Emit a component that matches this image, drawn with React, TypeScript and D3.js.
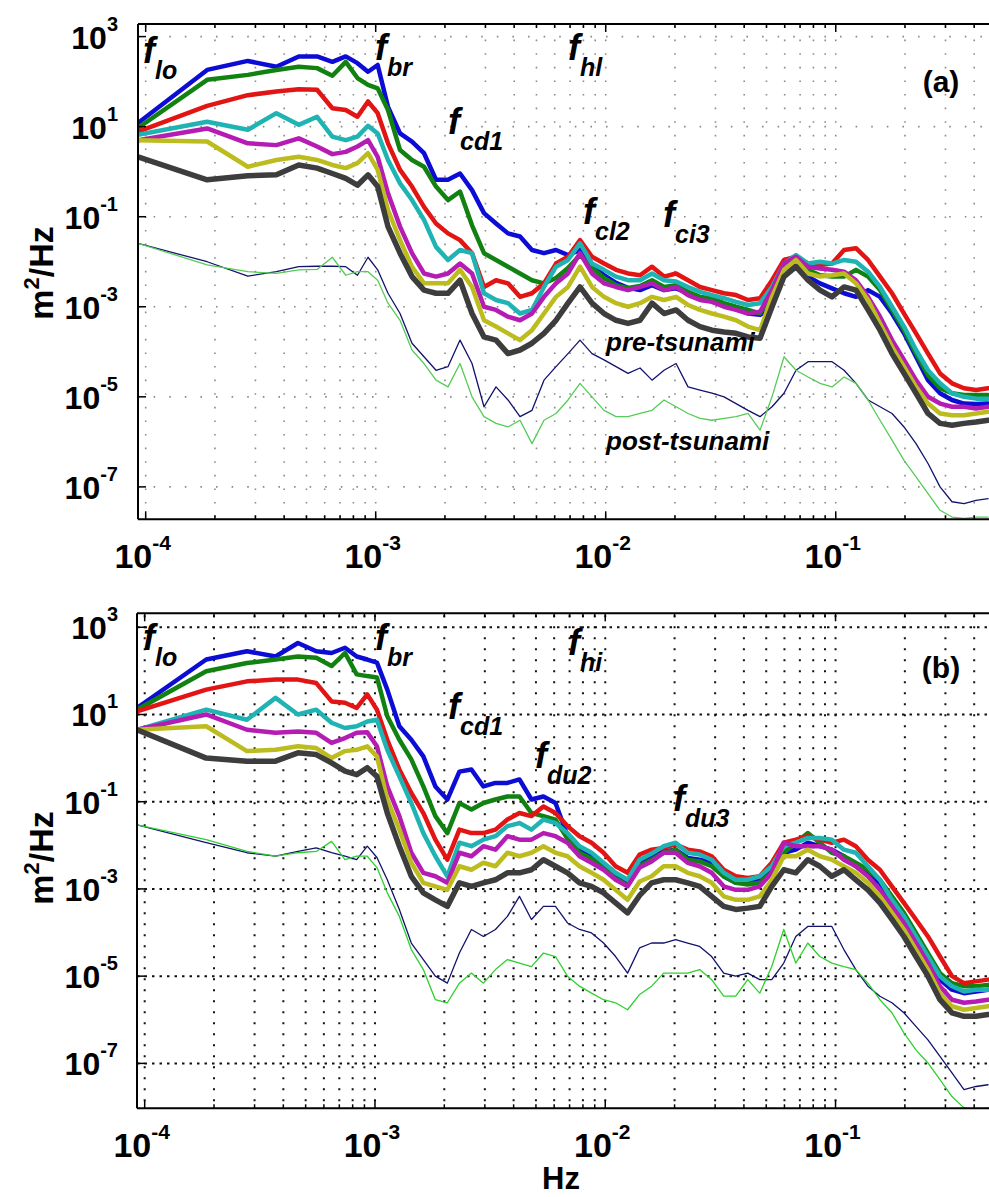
import React from 'react';
import * as d3 from 'd3';

// frequencies (Hz): the first eleven are the raw harmonics of the 3 h record, then ~log spaced
const freqs = [
  9.26e-5, 1.85e-4, 2.78e-4, 3.70e-4, 4.63e-4, 5.56e-4, 6.48e-4, 7.41e-4, 8.33e-4, 9.26e-4, 1.02e-3,
  1.131e-3, 1.276e-3, 1.438e-3, 1.622e-3, 1.829e-3, 2.062e-3, 2.326e-3, 2.623e-3, 2.957e-3, 3.335e-3,
  3.760e-3, 4.240e-3, 4.781e-3, 5.391e-3, 6.080e-3, 6.856e-3, 7.731e-3, 8.718e-3, 9.831e-3, 1.109e-2,
  1.250e-2, 1.410e-2, 1.590e-2, 1.793e-2, 2.022e-2, 2.280e-2, 2.570e-2, 2.898e-2, 3.268e-2, 3.686e-2,
  4.156e-2, 4.687e-2, 5.285e-2, 5.959e-2, 6.720e-2, 7.578e-2, 8.545e-2, 9.636e-2, 0.1087, 0.1225,
  0.1382, 0.1558, 0.1757, 0.1981, 0.2234, 0.2519, 0.2841, 0.3203, 0.3612, 0.4074, 0.4594,
];

// panel (a): log10 of spectral density (m^2/Hz)
const aBlue = [1.08, 2.26, 2.46, 2.33, 2.56, 2.56, 2.44, 2.56, 2.41, 2.22, 2.37,
  1.44, 0.85, 0.67, 0.41, -0.18, -0.18, -0.04, -0.41, -0.92, -1.15, -1.37, -1.44, -1.74, -1.81, -1.74, -1.85, -1.74, -2.07, -2.30, -2.47,
  -2.58, -2.63, -2.52, -2.63, -2.59, -2.70, -2.81, -2.85, -2.96, -3.04, -3.15, -3.18, -3.00, -2.18, -2.04, -2.33, -2.48, -2.59, -2.70, -2.78,
  -2.63, -2.78, -3.15, -3.59, -4.11, -4.63, -4.92, -5.07, -5.15, -5.16, -5.15];
const aGreen = [0.97, 2.04, 2.15, 2.26, 2.33, 2.30, 2.13, 2.44, 2.08, 1.93, 1.85,
  1.37, 0.48, 0.26, 0.11, -0.33, -0.63, -0.44, -1.19, -1.81, -1.96, -2.11, -2.26, -2.41, -2.48, -2.36, -2.14, -1.85, -2.14, -2.36, -2.52,
  -2.58, -2.54, -2.41, -2.56, -2.52, -2.67, -2.78, -2.81, -2.92, -3.00, -3.07, -3.15, -2.70, -2.11, -1.96, -2.18, -2.30, -2.33, -2.33, -2.18,
  -2.33, -2.63, -3.07, -3.52, -4.04, -4.52, -4.81, -4.92, -4.96, -4.96, -4.96];
const aRed = [0.89, 1.46, 1.70, 1.78, 1.83, 1.82, 1.41, 1.37, 1.22, 1.56, 1.30,
  0.63, 0.04, -0.33, -0.78, -1.15, -1.37, -1.52, -1.81, -2.56, -2.41, -2.48, -2.78, -2.70, -2.48, -2.04, -1.89, -1.52, -1.89, -2.04, -2.18,
  -2.26, -2.30, -2.11, -2.33, -2.26, -2.41, -2.56, -2.63, -2.70, -2.74, -2.85, -2.81, -2.41, -1.96, -1.89, -2.04, -2.07, -2.04, -1.74, -1.70,
  -1.96, -2.33, -2.70, -3.15, -3.59, -4.04, -4.48, -4.70, -4.81, -4.85, -4.81];
const aCyan = [0.82, 1.11, 0.93, 1.30, 1.04, 1.22, 0.78, 0.70, 0.78, 1.02, 0.85,
  0.26, -0.26, -0.63, -1.07, -1.67, -1.96, -1.74, -1.81, -2.70, -2.85, -2.92, -3.15, -3.07, -2.56, -2.11, -1.96, -1.59, -2.04, -2.18, -2.33,
  -2.41, -2.41, -2.26, -2.41, -2.44, -2.56, -2.67, -2.74, -2.81, -2.89, -2.96, -2.92, -2.56, -2.04, -1.85, -2.04, -2.00, -2.04, -1.96, -2.00,
  -2.22, -2.56, -3.00, -3.44, -3.96, -4.41, -4.70, -4.92, -5.00, -5.04, -5.04];
const aMagenta = [0.70, 0.96, 0.63, 0.59, 0.74, 0.56, 0.39, 0.44, 0.56, 0.70, 0.33,
  -0.48, -1.22, -1.81, -2.26, -2.33, -2.26, -2.04, -2.26, -3.00, -3.07, -3.22, -3.30, -3.15, -2.78, -2.48, -2.26, -1.81, -2.26, -2.48, -2.56,
  -2.63, -2.56, -2.48, -2.63, -2.56, -2.74, -2.85, -2.89, -3.00, -3.07, -3.15, -3.11, -2.63, -2.04, -1.89, -2.11, -2.15, -2.18, -2.22, -2.41,
  -2.78, -3.22, -3.74, -4.18, -4.63, -5.00, -5.15, -5.22, -5.22, -5.26, -5.22];
const aYellow = [0.70, 0.67, 0.11, 0.26, 0.33, 0.26, 0.15, 0.08, 0.19, 0.41, 0.04,
  -0.85, -1.52, -2.11, -2.48, -2.48, -2.48, -2.18, -2.56, -3.30, -3.44, -3.59, -3.74, -3.52, -3.15, -2.78, -2.56, -2.11, -2.56, -2.78, -2.92,
  -3.00, -2.92, -2.78, -2.85, -2.78, -2.96, -3.07, -3.15, -3.22, -3.30, -3.44, -3.52, -2.78, -2.18, -1.96, -2.26, -2.33, -2.30, -2.26, -2.48,
  -2.85, -3.37, -3.89, -4.33, -4.78, -5.15, -5.37, -5.41, -5.41, -5.37, -5.33];
const aGray = [0.33, -0.18, -0.09, -0.07, 0.15, 0.08, -0.04, -0.15, -0.30, -0.07, -0.33,
  -1.22, -1.81, -2.33, -2.63, -2.70, -2.70, -2.41, -3.15, -3.67, -3.74, -4.04, -3.96, -3.81, -3.59, -3.30, -2.92, -2.56, -2.92, -3.15, -3.30,
  -3.37, -3.30, -2.92, -3.15, -3.07, -3.30, -3.44, -3.52, -3.56, -3.59, -3.67, -3.70, -3.00, -2.33, -2.11, -2.41, -2.63, -2.78, -2.56, -2.63,
  -3.07, -3.52, -4.04, -4.48, -4.92, -5.37, -5.59, -5.63, -5.59, -5.56, -5.52];
const aPre = [-1.59, -2.00, -2.32, -2.22, -2.11, -2.10, -2.10, -2.11, -2.30, -1.90, -2.18,
  -2.70, -3.15, -3.81, -4.11, -4.41, -4.33, -3.74, -4.26, -5.22, -4.78, -5.07, -5.44, -5.30, -4.63, -4.33, -4.04, -3.74, -4.04, -4.18, -4.33,
  -4.48, -4.36, -4.63, -4.41, -4.26, -4.78, -4.85, -4.92, -5.00, -5.15, -5.30, -5.44, -5.22, -4.92, -4.41, -4.22, -4.22, -4.22, -4.41, -4.70,
  -5.07, -5.22, -5.37, -5.67, -6.04, -6.48, -7.00, -7.33, -7.37, -7.30, -7.26];
const aPost = [-1.59, -2.07, -2.22, -2.26, -2.18, -2.17, -1.90, -2.30, -2.22, -2.22, -2.41,
  -2.92, -3.30, -3.96, -4.26, -4.63, -4.78, -4.26, -5.00, -5.44, -5.59, -5.67, -5.52, -6.04, -5.52, -5.37, -5.07, -4.70, -5.00, -5.30, -5.44,
  -5.44, -5.37, -5.30, -5.07, -5.22, -5.37, -5.48, -5.52, -5.48, -5.44, -5.37, -5.74, -5.00, -4.11, -4.41, -4.56, -4.70, -4.78, -4.56, -4.70,
  -5.07, -5.52, -5.96, -6.41, -6.78, -7.15, -7.52, -7.67, -7.70, -7.67, -7.67];

// panel (b): log10 of spectral density (m^2/Hz)
const bBlue = [1.15, 2.26, 2.45, 2.33, 2.64, 2.45, 2.41, 2.53, 2.33, 2.26, 2.19,
  1.57, 0.73, 0.42, 0.04, -0.65, -0.95, -0.31, -0.26, -0.65, -0.57, -0.57, -0.49, -0.95, -0.88, -1.03, -1.78, -2.10, -2.24, -2.47, -2.69,
  -2.86, -2.40, -2.26, -2.14, -2.10, -2.29, -2.33, -2.40, -2.71, -2.86, -2.86, -2.79, -2.56, -2.17, -2.10, -1.94, -2.02, -2.10, -2.25, -2.48,
  -2.67, -2.86, -3.32, -3.70, -4.16, -4.62, -5.08, -5.31, -5.39, -5.35, -5.31];
const bGreen = [1.11, 1.99, 2.18, 2.26, 2.33, 2.30, 2.11, 2.41, 1.92, 1.88, 1.85,
  0.96, 0.42, -0.03, -0.65, -1.33, -1.72, -1.03, -1.18, -1.03, -0.95, -0.88, -0.88, -1.26, -1.33, -1.41, -1.85, -2.17, -2.31, -2.53, -2.76,
  -2.92, -2.47, -2.33, -2.17, -2.10, -2.33, -2.37, -2.48, -2.71, -2.86, -2.90, -2.86, -2.63, -2.17, -1.94, -1.72, -1.94, -2.17, -2.25, -2.40,
  -2.56, -2.79, -3.17, -3.55, -4.01, -4.47, -4.93, -5.16, -5.23, -5.23, -5.20];
const bRed = [1.07, 1.57, 1.76, 1.80, 1.80, 1.72, 1.30, 1.27, 1.15, 1.46, 1.11,
  0.42, -0.26, -0.80, -1.26, -1.87, -2.33, -1.64, -1.72, -1.72, -1.64, -1.41, -1.26, -1.33, -1.11, -1.26, -1.56, -1.79, -1.94, -2.17, -2.48,
  -2.63, -2.21, -2.10, -2.06, -1.98, -2.10, -2.14, -2.25, -2.56, -2.71, -2.75, -2.71, -2.40, -1.94, -1.87, -1.79, -1.87, -1.94, -1.87, -2.02,
  -2.33, -2.56, -2.94, -3.32, -3.70, -4.09, -4.55, -5.00, -5.16, -5.12, -5.08];
const bCyan = [0.65, 1.11, 0.88, 1.38, 1.00, 1.11, 0.81, 0.69, 0.73, 0.84, 0.88,
  0.19, -0.42, -1.03, -1.72, -2.25, -2.71, -1.94, -2.02, -1.87, -1.79, -1.56, -1.49, -1.64, -1.41, -1.49, -1.72, -2.02, -2.17, -2.40, -2.63,
  -2.79, -2.33, -2.19, -2.02, -1.94, -2.17, -2.21, -2.33, -2.63, -2.79, -2.79, -2.71, -2.48, -2.02, -1.94, -1.83, -1.83, -1.87, -2.10, -2.17,
  -2.48, -2.79, -3.25, -3.63, -4.09, -4.55, -5.00, -5.23, -5.35, -5.31, -5.31];
const bMagenta = [0.65, 1.00, 0.65, 0.58, 0.61, 0.58, 0.35, 0.46, 0.58, 0.59, 0.27,
  -0.65, -1.33, -2.17, -2.63, -2.71, -2.86, -2.17, -2.25, -2.02, -2.10, -1.79, -1.87, -1.87, -1.72, -1.79, -1.94, -2.25, -2.40, -2.56, -2.79,
  -2.94, -2.51, -2.37, -2.17, -2.17, -2.40, -2.48, -2.63, -2.94, -3.02, -3.02, -2.94, -2.63, -1.94, -2.02, -2.02, -2.02, -2.10, -2.33, -2.48,
  -2.71, -3.02, -3.40, -3.78, -4.24, -4.70, -5.23, -5.54, -5.61, -5.58, -5.54];
const bYellow = [0.65, 0.73, 0.16, 0.19, 0.27, 0.23, 0.00, 0.16, 0.19, 0.27, 0.04,
  -0.95, -1.64, -2.40, -2.86, -2.94, -3.02, -2.48, -2.56, -2.40, -2.48, -2.17, -2.25, -2.17, -2.02, -2.17, -2.25, -2.48, -2.63, -2.79, -3.02,
  -3.25, -2.83, -2.71, -2.48, -2.48, -2.63, -2.71, -2.86, -3.17, -3.25, -3.25, -3.17, -2.79, -2.25, -2.25, -2.10, -2.25, -2.33, -2.48, -2.63,
  -2.86, -3.17, -3.55, -3.93, -4.39, -4.85, -5.39, -5.69, -5.77, -5.73, -5.69];
const bGray = [0.65, 0.00, -0.07, -0.07, 0.12, 0.08, -0.11, -0.30, -0.38, -0.22, -0.42,
  -1.26, -2.02, -2.71, -3.09, -3.25, -3.40, -2.86, -2.94, -2.86, -2.79, -2.63, -2.63, -2.56, -2.33, -2.48, -2.63, -2.86, -2.94, -3.09, -3.32,
  -3.55, -3.15, -2.86, -2.79, -2.79, -2.86, -2.94, -3.17, -3.40, -3.47, -3.44, -3.40, -2.94, -2.56, -2.63, -2.33, -2.48, -2.71, -2.56, -2.79,
  -3.02, -3.32, -3.70, -4.09, -4.55, -5.00, -5.54, -5.84, -5.92, -5.92, -5.88];
const bPre = [-1.53, -1.94, -2.17, -2.25, -2.14, -2.06, -2.17, -2.25, -2.33, -2.02, -2.28,
  -2.79, -3.47, -4.24, -4.62, -5.00, -5.16, -4.47, -3.93, -4.09, -3.93, -3.63, -3.17, -3.70, -3.40, -3.40, -3.78, -3.93, -4.01, -4.24, -4.55,
  -4.93, -4.35, -4.24, -4.24, -4.16, -4.24, -4.32, -4.55, -4.93, -5.00, -4.93, -5.08, -5.08, -4.70, -4.09, -3.86, -3.86, -3.86, -4.39, -4.85,
  -5.23, -5.46, -5.61, -5.84, -6.15, -6.46, -6.84, -7.22, -7.60, -7.53, -7.49];
const bPost = [-1.53, -1.87, -2.14, -2.25, -2.17, -2.14, -1.91, -2.33, -2.25, -2.25, -2.51,
  -3.09, -3.63, -4.39, -4.85, -5.54, -5.61, -5.16, -4.93, -5.16, -4.85, -4.62, -4.70, -4.78, -4.47, -4.55, -5.00, -5.23, -5.39, -5.54, -5.61,
  -5.77, -5.42, -5.23, -4.93, -4.93, -4.93, -4.85, -5.08, -5.46, -5.46, -5.08, -5.39, -4.78, -3.93, -4.70, -4.24, -4.55, -4.70, -4.78, -4.85,
  -5.16, -5.54, -5.84, -6.30, -6.69, -6.99, -7.37, -7.76, -8.02, -8.06, -8.02];

const yTickExps = [3, 1, -1, -3, -5, -7];
const xTickExps = [-4, -3, -2, -1];

const FONT = '"Liberation Sans", Arial, sans-serif';
const X_END = 0.5178; // right edge of the axes, just past the cropped picture

const thickStyle = [
  { color: '#0c0cd4', width: 4.5 },
  { color: '#118211', width: 4.5 },
  { color: '#e21414', width: 4.5 },
  { color: '#1fb3b3', width: 4.5 },
  { color: '#b41cb4', width: 4.5 },
  { color: '#bcbc1e', width: 4.5 },
  { color: '#3d3d3d', width: 5.5 },
];

type Ann = { sub: string; x: number; y: number };

const annsA: Ann[] = [
  { sub: 'lo', x: 143, y: 63 },
  { sub: 'br', x: 375, y: 60 },
  { sub: 'hl', x: 568, y: 60 },
  { sub: 'cd1', x: 448, y: 134 },
  { sub: 'cl2', x: 583, y: 224 },
  { sub: 'ci3', x: 663, y: 227 },
];
const annsB: Ann[] = [
  { sub: 'lo', x: 143, y: 650 },
  { sub: 'br', x: 375, y: 650 },
  { sub: 'hi', x: 568, y: 655 },
  { sub: 'cd1', x: 448, y: 719 },
  { sub: 'du2', x: 535, y: 768 },
  { sub: 'du3', x: 673, y: 811 },
];

type PanelProps = {
  id: string;
  top: number;
  bottom: number;
  left: number;
  yDom: [number, number];
  thick: number[][];
  pre: number[];
  post: number[];
  postColor: string;
  anns: Ann[];
  tag: string;
  tagY: number;
  ylabY: number;
  dark: boolean;
  extra?: React.ReactNode;
};

function Panel(p: PanelProps) {
  const x = d3.scaleLog().domain([freqs[0], X_END]).range([p.left, 1000]);
  const y = d3.scaleLog().domain([10 ** p.yDom[0], 10 ** p.yDom[1]]).range([p.bottom, p.top]);
  const line = d3
    .line<number>()
    .x((_, i) => x(freqs[i]))
    .y((v) => y(10 ** v));

  const xGrid: number[] = [];
  for (let e = -4; e <= -1; e++) {
    for (let m = 1; m <= 9; m++) {
      const v = m * 10 ** e;
      if (v > freqs[0] * 1.02 && v < X_END) xGrid.push(v);
    }
  }
  const isMajor = (v: number) => Math.abs(Math.log10(v) - Math.round(Math.log10(v))) < 1e-6;

  const gColor = p.dark ? '#111' : '#8a8a8a';
  const vDash = p.dark ? '2 9' : '1.6 12';
  const hDash = p.dark ? '2.5 5' : '1.6 14';

  return (
    <g>
      <defs>
        <clipPath id={p.id}>
          <rect x={p.left} y={p.top} width={1000 - p.left} height={p.bottom - p.top} />
        </clipPath>
      </defs>

      {/* dotted grid */}
      <g stroke={gColor} strokeWidth={p.dark ? 2 : 1.6} fill="none">
        {xGrid.map((v) => (
          <line key={'v' + v} x1={x(v)} x2={x(v)} y1={p.top + 2} y2={p.bottom} strokeDasharray={vDash} />
        ))}
        {yTickExps.map((e) => (
          <line key={'h' + e} x1={p.left} x2={1000} y1={y(10 ** e)} y2={y(10 ** e)} strokeDasharray={hDash} />
        ))}
      </g>

      {/* spectra */}
      <g clipPath={`url(#${p.id})`} fill="none" strokeLinejoin="round" strokeLinecap="round">
        {p.thick.map((vals, i) => (
          <path key={i} d={line(vals) || ''} stroke={thickStyle[i].color} strokeWidth={thickStyle[i].width} />
        ))}
        <path d={line(p.pre) || ''} stroke="#12126e" strokeWidth={1.3} />
        <path d={line(p.post) || ''} stroke={p.postColor} strokeWidth={1.3} />
      </g>

      {/* axes box (right side falls outside the picture) */}
      <g stroke="#000" strokeWidth={2} fill="none">
        <line x1={p.left} x2={1000} y1={p.top} y2={p.top} />
        <line x1={p.left} x2={1000} y1={p.bottom} y2={p.bottom} />
        <line x1={p.left} x2={p.left} y1={p.top} y2={p.bottom} />
      </g>
      <g stroke="#000" strokeWidth={1.5}>
        {xGrid.map((v) => {
          const len = isMajor(v) ? 8 : 4;
          return (
            <g key={'t' + v}>
              <line x1={x(v)} x2={x(v)} y1={p.bottom} y2={p.bottom - len} />
              <line x1={x(v)} x2={x(v)} y1={p.top} y2={p.top + len} />
            </g>
          );
        })}
        {yTickExps.map((e) => (
          <line key={'yt' + e} x1={p.left} x2={p.left + 8} y1={y(10 ** e)} y2={y(10 ** e)} />
        ))}
      </g>

      {/* tick labels */}
      <g fontFamily={FONT} fontWeight="bold" fill="#000">
        {yTickExps.map((e) => (
          <text key={'yl' + e} x={118} y={y(10 ** e) + 12} textAnchor="end" fontSize={32}>
            10
            <tspan dy={-18} fontSize={20}>
              {String(e)}
            </tspan>
          </text>
        ))}
        {xTickExps.map((e) => (
          <text key={'xl' + e} x={x(10 ** e) - 3} y={p.bottom + 49} textAnchor="middle" fontSize={34}>
            10
            <tspan dy={-18} fontSize={21}>
              {String(e)}
            </tspan>
          </text>
        ))}
        <text transform={`translate(53,${p.ylabY}) rotate(-90)`} textAnchor="middle" fontSize={34}>
          m
          <tspan dy={-14} fontSize={22}>
            2
          </tspan>
          <tspan dy={14}>/Hz</tspan>
        </text>
        <text x={941} y={p.tagY} textAnchor="middle" fontSize={30}>
          {p.tag}
        </text>
      </g>

      {/* frequency markers */}
      <g fontFamily={FONT} fontWeight="bold" fontStyle="italic" fill="#000">
        {p.anns.map((a) => (
          <g key={a.sub}>
            <text x={a.x} y={a.y} fontSize={36}>
              f
            </text>
            <text x={a.x + 12} y={a.y + 16} fontSize={25}>
              {a.sub}
            </text>
          </g>
        ))}
      </g>
      {p.extra}
    </g>
  );
}

export default function App() {
  return (
    <div style={{ position: 'absolute', left: 0, top: 0 }}>
      <svg width={989} height={1197} viewBox="0 0 989 1197" style={{ display: 'block', background: '#fff' }}>
        <rect width={989} height={1197} fill="#fff" />
        <Panel
          id="clipA"
          top={24}
          bottom={519.3}
          left={138}
          yDom={[-7.72, 3.28]}
          thick={[aBlue, aGreen, aRed, aCyan, aMagenta, aYellow, aGray]}
          pre={aPre}
          post={aPost}
          postColor="#55cc55"
          anns={annsA}
          tag="(a)"
          tagY={92}
          ylabY={273}
          dark={false}
          extra={
            <g fontFamily={FONT} fontWeight="bold" fontStyle="italic" fontSize={26} fill="#000">
              <text x={606} y={351}>pre-tsunami</text>
              <text x={606} y={450}>post-tsunami</text>
            </g>
          }
        />
        <Panel
          id="clipB"
          top={613.3}
          bottom={1108.3}
          left={137}
          yDom={[-8.03, 3.32]}
          thick={[bBlue, bGreen, bRed, bCyan, bMagenta, bYellow, bGray]}
          pre={bPre}
          post={bPost}
          postColor="#2ed02e"
          anns={annsB}
          tag="(b)"
          tagY={678}
          ylabY={858}
          dark={true}
        />
        <text x={561} y={1189} textAnchor="middle" fontFamily={FONT} fontWeight="bold" fontSize={31}>
          Hz
        </text>
      </svg>
    </div>
  );
}
